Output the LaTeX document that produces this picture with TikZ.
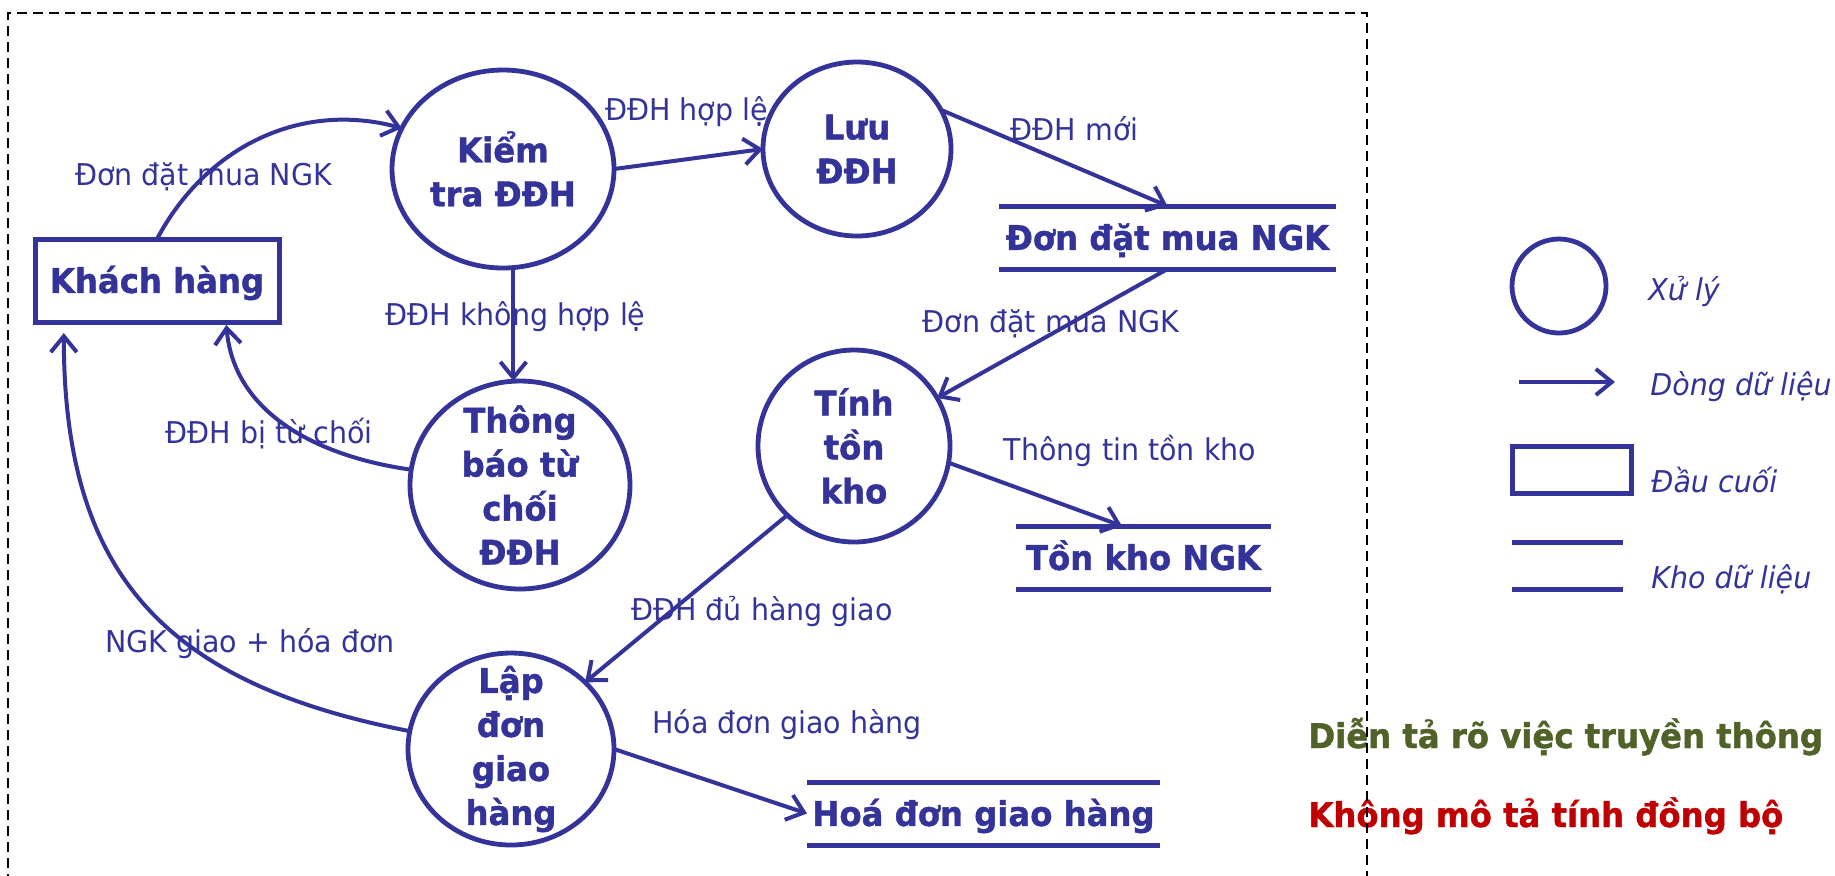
\documentclass[tikz,border=0pt]{standalone}
\usepackage{fontspec}
\setmainfont{DejaVu Sans}[FakeStretch=0.95, BoldFeatures={FakeBold=1.2}]
\usetikzlibrary{arrows.meta,shapes.geometric,calc}
\definecolor{dfdblue}{RGB}{51,51,153}
\definecolor{okgreen}{RGB}{79,98,40}
\definecolor{badred}{RGB}{192,0,0}
\tikzset{
  bfont/.style={font=\fontsize{17}{22}\selectfont\bfseries},
  lbl/.style={font=\fontsize{15}{18}\selectfont, text=dfdblue, inner sep=0, anchor=base},
  lgtext/.style={font=\fontsize{15}{18}\selectfont\itshape, text=dfdblue, inner sep=0, anchor=base west},
  proc/.style={ellipse, draw=dfdblue, line width=2.4pt, inner sep=0, outer sep=0},
  ptext/.style={bfont, text=dfdblue, align=center, inner sep=0},
  term/.style={rectangle, draw=dfdblue, line width=2.5pt, inner sep=0, outer sep=0,
    bfont, text=dfdblue, text height=12.4pt, text depth=0pt},
  store/.style={rectangle, inner sep=0, outer sep=0, minimum height=31.5pt,
    bfont, text=dfdblue, text height=12.4pt, text depth=0pt},
  storeline/.style={draw=dfdblue, line width=2.5pt},
  flow/.style={draw=dfdblue, line width=2pt, -{Straight Barb[length=8pt,width=13pt]}},
  border/.style={draw=black, line width=0.75pt, dash pattern=on 5pt off 3pt}
}
\begin{document}
\begin{tikzpicture}[x=0.5pt,y=-0.5pt]
\useasboundingbox (0,0) rectangle (1835,875);

% processes
\node[proc, minimum width=111pt, minimum height=99pt,
  label={[ptext]center:Kiểm\\tra ĐĐH}] (kiem) at (503,169) {};
\node[proc, minimum width=94pt, minimum height=87pt,
  label={[ptext]center:Lưu\\ĐĐH}] (luu) at (857,149) {};
\node[proc, minimum width=110pt, minimum height=104pt,
  label={[ptext]center:Thông\\báo từ\\chối\\ĐĐH}] (thong) at (520,485) {};
\node[proc, minimum width=96pt, minimum height=96pt,
  label={[ptext]center:Tính\\tồn\\kho}] (tinh) at (854,446) {};
\node[proc, minimum width=103pt, minimum height=96pt,
  label={[ptext]center:Lập\\đơn\\giao\\hàng}] (lap) at (511,749) {};

% terminator
\node[term, minimum width=122pt, minimum height=41.5pt] (kh) at (157,280.5) {Khách hàng};

% data stores
\node[store, minimum width=168.5pt] (dondat) at (1167.5,237.5) {Đơn đặt mua NGK};
\node[store, minimum width=127.5pt] (tonkho) at (1143.5,557.5) {Tồn kho NGK};
\node[store, minimum width=176.5pt] (hoadon) at (983.5,813.5) {Hoá đơn giao hàng};
\foreach \s in {dondat,tonkho,hoadon}{
  \draw[storeline] (\s.north west) -- (\s.north east);
  \draw[storeline] (\s.south west) -- (\s.south east);
}

% flows
\draw[flow] (kh.north) to[out=62,in=165] (kiem.158);
\draw[flow] (kiem.east) -- (luu.west);
\draw[flow] (kiem.-84) -- (kiem.-84 |- thong.north);
\draw[flow, shorten >=1.5pt] (thong.172) to[out=172,in=-85] (kh.-31.5);
\draw[flow, shorten >=5.5pt] (lap.170) to[out=169,in=-90,looseness=1.2] (kh.204.4);
\draw[flow] (luu.25) -- (dondat.north);
\draw[flow] (dondat.south) -- (tinh.30);
\draw[flow] (tinh.-10) -- ([xshift=-10.75pt]tonkho.north);
\draw[flow] (tinh.-134) -- (lap.42);
\draw[flow] (lap.east) -- (hoadon.west);

% flow labels
\node[lbl] (l1) at (203.5,185) {Đơn đặt mua NGK};
\node[lbl] (l2) at (686.5,120) {ĐĐH hợp lệ};
\node[lbl] (l3) at (515.5,325) {ĐĐH không hợp lệ};
\node[lbl] (l4) at (269,443) {ĐĐH bị từ chối};
\node[lbl] (l5) at (250,652) {NGK giao + hóa đơn};
\node[lbl] (l6) at (1074.5,140) {ĐĐH mới};
\node[lbl] (l7) at (1051,332) {Đơn đặt mua NGK};
\node[lbl] (l8) at (1130,460) {Thông tin tồn kho};
\node[lbl] (l9) at (762,620) {ĐĐH đủ hàng giao};
\node[lbl] (l10) at (787,733) {Hóa đơn giao hàng};

% legend
\node[proc, circle, minimum size=47pt] (lgproc) at (1559,286) {};
\coordinate (lga) at (1519,382);
\coordinate (lgb) at (1615,382);
\draw[flow] (lga) -- (lgb);
\node[term, minimum width=59.5pt, minimum height=23.5pt] (lgterm) at (1571.5,469.5) {};
\node[store, minimum width=55.5pt, minimum height=23.5pt] (lgstore) at (1567.5,565.5) {};
\draw[storeline] (lgstore.north west) -- (lgstore.north east);
\draw[storeline] (lgstore.south west) -- (lgstore.south east);
\node[lgtext] (t1) at (1648,300) {Xử lý};
\node[lgtext] (t2) at (1650,395) {Dòng dữ liệu};
\node[lgtext] (t3) at (1651,492) {Đầu cuối};
\node[lgtext] (t4) at (1651,588) {Kho dữ liệu};

% notes
\node[bfont, text=okgreen, inner sep=0, anchor=base west] (n1) at (1308,748) {Diễn tả rõ việc truyền thông};
\node[bfont, text=badred, inner sep=0, anchor=base west] (n2) at (1308,827) {Không mô tả tính đồng bộ};

% context boundary
\draw[border] (8,900) -- (8,13) -- (1367,13) -- (1367,900);
\end{tikzpicture}
\end{document}
